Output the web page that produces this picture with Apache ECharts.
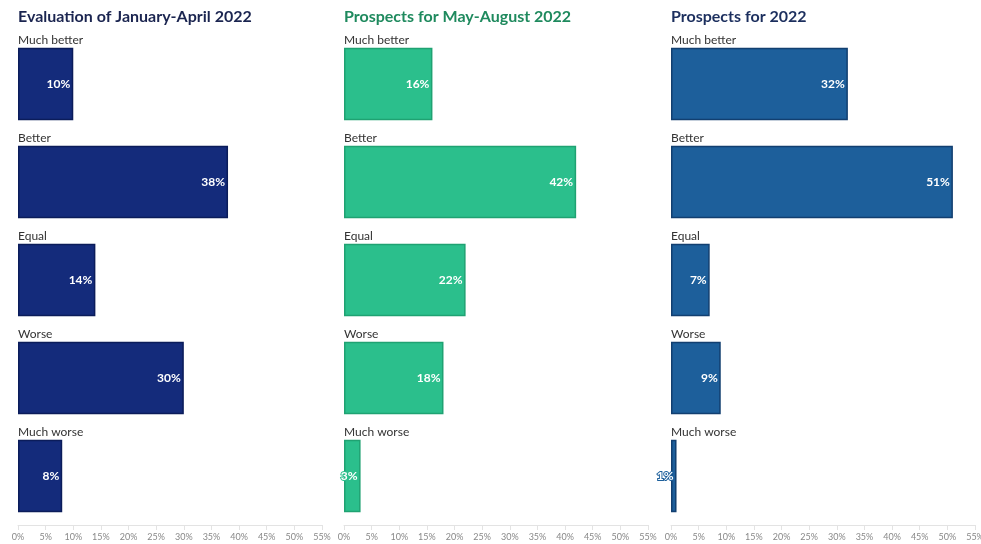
<!DOCTYPE html>
<html>
<head>
<meta charset="utf-8">
<script src="https://cdn.jsdelivr.net/npm/echarts@6/dist/echarts.min.js"></script>
<style>
  html, body { margin: 0; padding: 0; background: #fff; }
  #chart { width: 981px; height: 544px; }
</style>
</head>
<body>
<div id="chart"></div>
<script>
var categories = ['Much better', 'Better', 'Equal', 'Worse', 'Much worse'];
var titles = ['Evaluation of January-April 2022', 'Prospects for May-August 2022', 'Prospects for 2022'];
var evalJanApr = [10, 38, 14, 30, 8];
var prospectsMayAug = [16, 42, 22, 18, 3];
var prospectsYear = [32, 51, 7, 9, 1];

var panels = [
	{ data: evalJanApr, fill: '#142b7b', border: '#0b1c5a', titleColor: '#1b2550', left: 18 },
	{ data: prospectsMayAug, fill: '#2bbf8c', border: '#1fa272', titleColor: '#1f8a5e', left: 344 },
	{ data: prospectsYear, fill: '#1d5f9b', border: '#123f70', titleColor: '#1c2f5e', left: 671 }
];

var myChart = echarts.init(document.getElementById('chart'));
var option = {
	backgroundColor: '#fff',
	animation: false,
	title: [],
	grid: [],
	xAxis: [],
	yAxis: [],
	series: []
};

panels.forEach(function(p, i) {
	option.title.push({
		text: titles[i],
		left: p.left - 5,
		top: 4,
		textStyle: {
			fontFamily: 'Lato',
			fontWeight: 'bold',
			fontSize: 16,
			color: p.titleColor
		}
	});
	option.grid.push({
		left: p.left,
		width: 304,
		top: 35,
		bottom: 19,
		containLabel: false,
		outerBoundsMode: 'none'
	});
	option.xAxis.push({
		type: 'value',
		gridIndex: i,
		min: 0,
		max: 55,
		interval: 5,
		splitLine: { show: false },
		axisLine: { show: true, lineStyle: { color: '#e3e3e3' } },
		axisTick: { show: true, length: 5, lineStyle: { color: '#e3e3e3' } },
		axisLabel: {
			formatter: '{value}%',
			fontFamily: 'Lato',
			fontSize: 9,
			color: '#888',
			margin: 8
		}
	});
	option.yAxis.push({
		type: 'category',
		gridIndex: i,
		inverse: true,
		data: categories,
		axisLine: { show: false },
		axisTick: { show: false },
		axisLabel: {
			inside: true,
			margin: 0,
			align: 'left',
			verticalAlign: 'bottom',
			formatter: function(v) { return '{c|' + v + '}'; },
			rich: {
				c: {
					fontFamily: 'Lato',
					fontSize: 12,
					color: '#333',
					padding: [0, 0, 38, 0]
				}
			}
		},
		z: 5
	});
	option.series.push({
		type: 'bar',
		xAxisIndex: i,
		yAxisIndex: i,
		data: p.data,
		barCategoryGap: '26%',
		itemStyle: { color: p.fill, borderColor: p.border, borderWidth: 1.5 },
		label: {
			show: true,
			position: 'insideRight',
			distance: 3,
			formatter: '{c}%',
			fontFamily: 'Lato',
			fontWeight: 'bold',
			fontSize: 12,
			color: '#fff',
			textBorderColor: p.fill,
			textBorderWidth: 2
		}
	});
});

myChart.setOption(option);
</script>
</body>
</html>
